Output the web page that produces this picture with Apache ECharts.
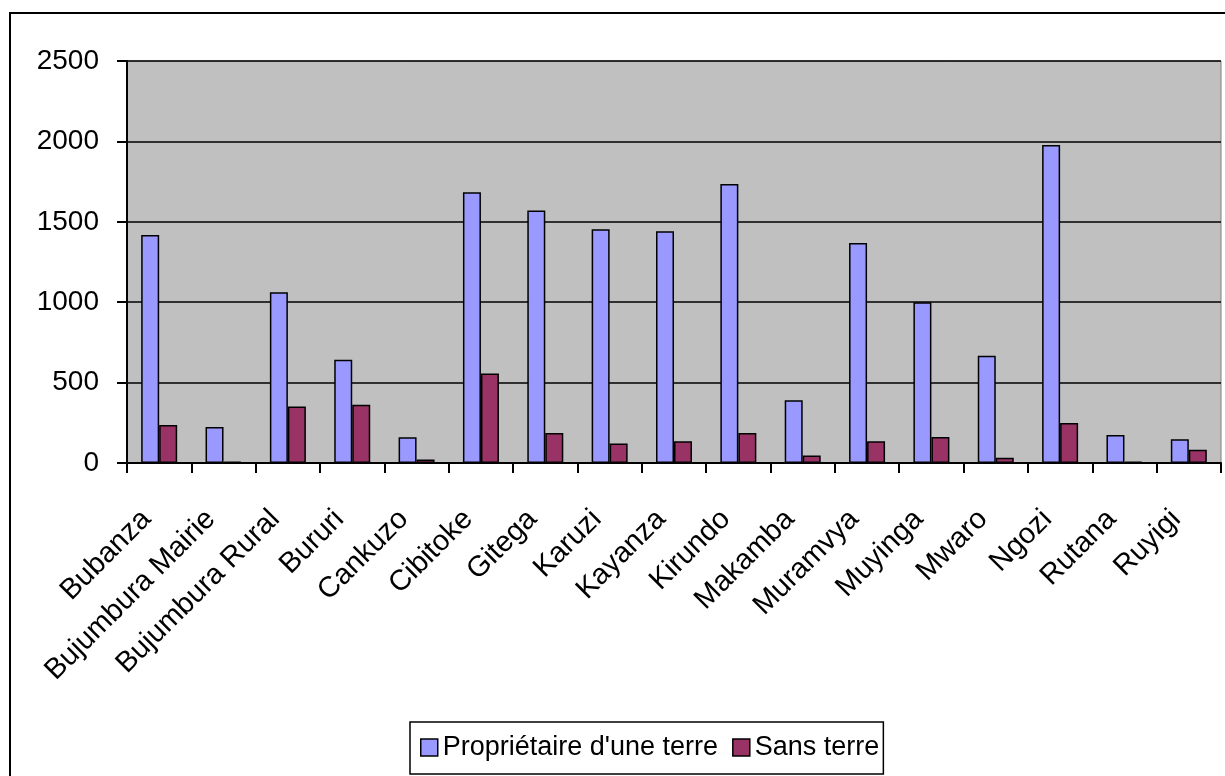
<!DOCTYPE html>
<html>
<head>
<meta charset="utf-8">
<script src="https://cdn.jsdelivr.net/npm/echarts@6/dist/echarts.min.js"></script>
<style>
  html, body { margin: 0; padding: 0; background: #fff; }
  #chart { width: 1225px; height: 776px; }
</style>
</head>
<body>
<div id="chart"></div>
<script>
// Provinces of Burundi
const provinces = ['Bubanza', 'Bujumbura Mairie', 'Bujumbura Rural', 'Bururi', 'Cankuzo', 'Cibitoke',
  'Gitega', 'Karuzi', 'Kayanza', 'Kirundo', 'Makamba', 'Muramvya', 'Muyinga', 'Mwaro', 'Ngozi', 'Rutana', 'Ruyigi'];

// Households owning land
const proprietaires = [1418, 224, 1062, 642, 160, 1683, 1570, 1453, 1441, 1735, 390, 1368, 1000, 667, 1977, 174, 148];

// Landless households
const sansTerre = [237, 8, 352, 362, 21, 556, 186, 121, 135, 186, 46, 135, 162, 33, 248, 8, 83];

const yTicks = { min: 0, max: 2500, interval: 500 };

const font = '"Liberation Sans", Arial, sans-serif';
const chart = echarts.init(document.getElementById('chart'), null, { renderer: 'canvas' });

chart.setOption({
  animation: false,
  backgroundColor: '#ffffff',
  textStyle: { fontFamily: font },
  graphic: [{
    type: 'rect',
    z: -1,
    shape: { x: 10, y: 13, width: 1400, height: 900 },
    style: { fill: 'none', stroke: '#000', lineWidth: 2 }
  }],
  grid: {
    left: 127, right: 4, top: 61, bottom: 313,
    show: true,
    backgroundColor: '#C0C0C0',
    borderColor: '#808080',
    borderWidth: 1
  },
  legend: {
    left: 410, top: 722,
    itemWidth: 17, itemHeight: 17,
    itemGap: 14,
    padding: [12, 4, 13, 10],
    borderColor: '#000', borderWidth: 1.5,
    backgroundColor: '#fff',
    icon: 'rect',
    itemStyle: { borderColor: '#000', borderWidth: 1.5 },
    textStyle: { fontSize: 27, color: '#000', fontFamily: font },
    data: ["Propriétaire d'une terre", 'Sans terre']
  },
  xAxis: {
    type: 'category',
    data: provinces,
    boundaryGap: true,
    axisLine: { lineStyle: { color: '#000', width: 2 } },
    axisTick: { show: true, alignWithLabel: false, length: 10, lineStyle: { color: '#000', width: 2 } },
    axisLabel: {
      interval: 0, rotate: 45, margin: 39,
      padding: [0, 18, 0, 0],
      fontSize: 29, color: '#000', fontFamily: font
    },
    splitLine: { show: false }
  },
  yAxis: {
    type: 'value',
    min: yTicks.min, max: yTicks.max, interval: yTicks.interval,
    axisLine: { show: true, lineStyle: { color: '#000', width: 2 } },
    axisTick: { show: true, length: 10, lineStyle: { color: '#000', width: 2 } },
    axisLabel: {
      fontSize: 28, color: '#000', margin: 28, fontFamily: font,
      formatter: v => String(v)
    },
    splitLine: { show: true, lineStyle: { color: '#000', width: 1.5 } }
  },
  series: [
    {
      name: "Propriétaire d'une terre",
      type: 'bar',
      data: proprietaires,
      barWidth: 18,
      barGap: '0%',
      itemStyle: { color: '#9999FF', borderColor: '#000', borderWidth: 1.5 }
    },
    {
      name: 'Sans terre',
      type: 'bar',
      data: sansTerre,
      barWidth: 18,
      barGap: '0%',
      itemStyle: { color: '#993366', borderColor: '#000', borderWidth: 1.5 }
    }
  ]
});
</script>
</body>
</html>
